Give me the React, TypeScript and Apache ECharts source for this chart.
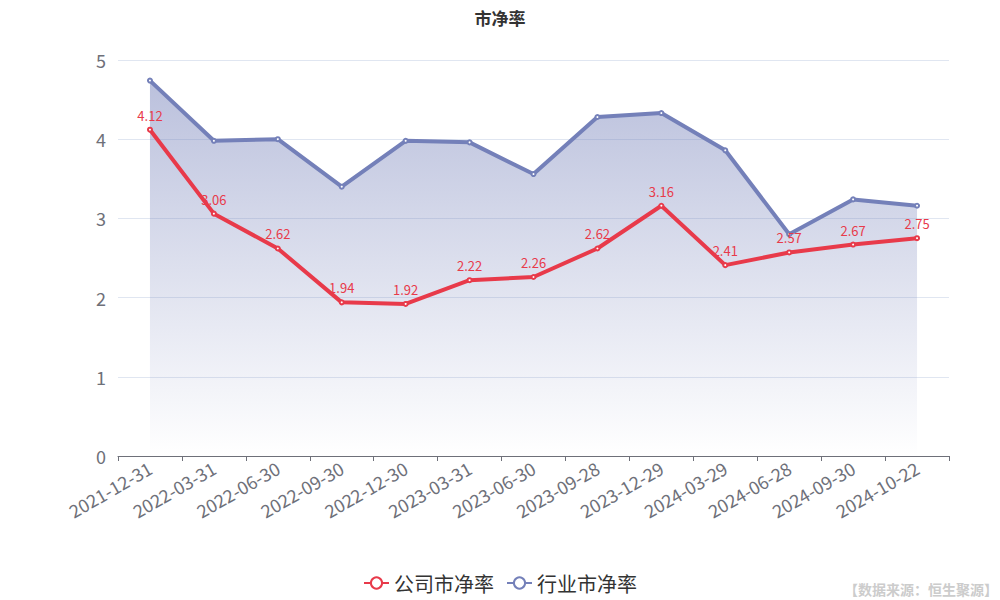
import React, { useEffect, useRef } from "react";
import * as echarts from "echarts";

const categories = [
  "2021-12-31", "2022-03-31", "2022-06-30", "2022-09-30", "2022-12-30",
  "2023-03-31", "2023-06-30", "2023-09-28", "2023-12-29", "2024-03-29",
  "2024-06-28", "2024-09-30", "2024-10-22",
];
const companyPB = [4.12, 3.06, 2.62, 1.94, 1.92, 2.22, 2.26, 2.62, 3.16, 2.41, 2.57, 2.67, 2.75];
const industryPB = [4.74, 3.98, 4.0, 3.4, 3.98, 3.96, 3.56, 4.28, 4.33, 3.86, 2.8, 3.24, 3.16];
const seriesNames = ["公司市净率", "行业市净率"];

const FONT = "'Noto Sans CJK SC', 'Noto Sans', sans-serif";

export default function App() {
  const ref = useRef<HTMLDivElement>(null);
  useEffect(() => {
    document.body.style.margin = "0";
    if (!ref.current) return;
    const chart = echarts.init(ref.current, null, { renderer: "svg" });
    chart.setOption({
      animation: false,
      textStyle: { fontFamily: FONT },
      title: {
        text: "市净率",
        left: "center",
        top: 4,
        textStyle: { fontSize: 17, fontWeight: "bold", color: "#333", fontFamily: FONT },
      },
      legend: {
        bottom: 2,
        left: "center",
        itemWidth: 25,
        itemHeight: 14,
        itemGap: 12,
        textStyle: { fontSize: 20, color: "#333", fontFamily: FONT },
        data: seriesNames,
      },
      graphic: [
        {
          type: "text",
          right: 2,
          bottom: 4,
          style: {
            text: "【数据来源：恒生聚源】",
            fill: "#cccccc",
            fontSize: 14,
            fontWeight: "bold",
            fontFamily: FONT,
          },
        },
      ],
      grid: { left: 118, right: 51, top: 60, bottom: 144 },
      xAxis: {
        type: "category",
        data: categories,
        boundaryGap: true,
        axisLine: { lineStyle: { color: "#6e7079" } },
        axisTick: { show: true },
        axisLabel: { rotate: 30, fontSize: 18, color: "#6e7079", interval: 0, margin: 10 },
      },
      yAxis: {
        type: "value",
        min: 0,
        max: 5,
        interval: 1,
        axisLabel: { fontSize: 18, color: "#6e7079", margin: 12 },
        splitLine: { lineStyle: { color: "#e0e6f1" } },
      },
      series: [
        {
          name: seriesNames[0],
          type: "line",
          data: companyPB,
          z: 3,
          symbol: "emptyCircle",
          symbolSize: 4,
          itemStyle: { color: "#e83a4a", borderWidth: 1.5 },
          lineStyle: { width: 4, color: "#e83a4a" },
          label: { show: true, position: "top", color: "#e83a4a", fontSize: 13 },
        },
        {
          name: seriesNames[1],
          type: "line",
          data: industryPB,
          z: 2,
          symbol: "emptyCircle",
          symbolSize: 4,
          itemStyle: { color: "#7480b9", borderWidth: 1.5 },
          lineStyle: { width: 4, color: "#7480b9" },
          areaStyle: {
            color: new echarts.graphic.LinearGradient(0, 0, 0, 1, [
              { offset: 0, color: "rgba(116,128,185,0.7)" },
              { offset: 1, color: "rgba(116,128,185,0)" },
            ]),
          },
        },
      ],
    });
    return () => chart.dispose();
  }, []);
  return <div ref={ref} style={{ width: 1000, height: 600 }} />;
}
